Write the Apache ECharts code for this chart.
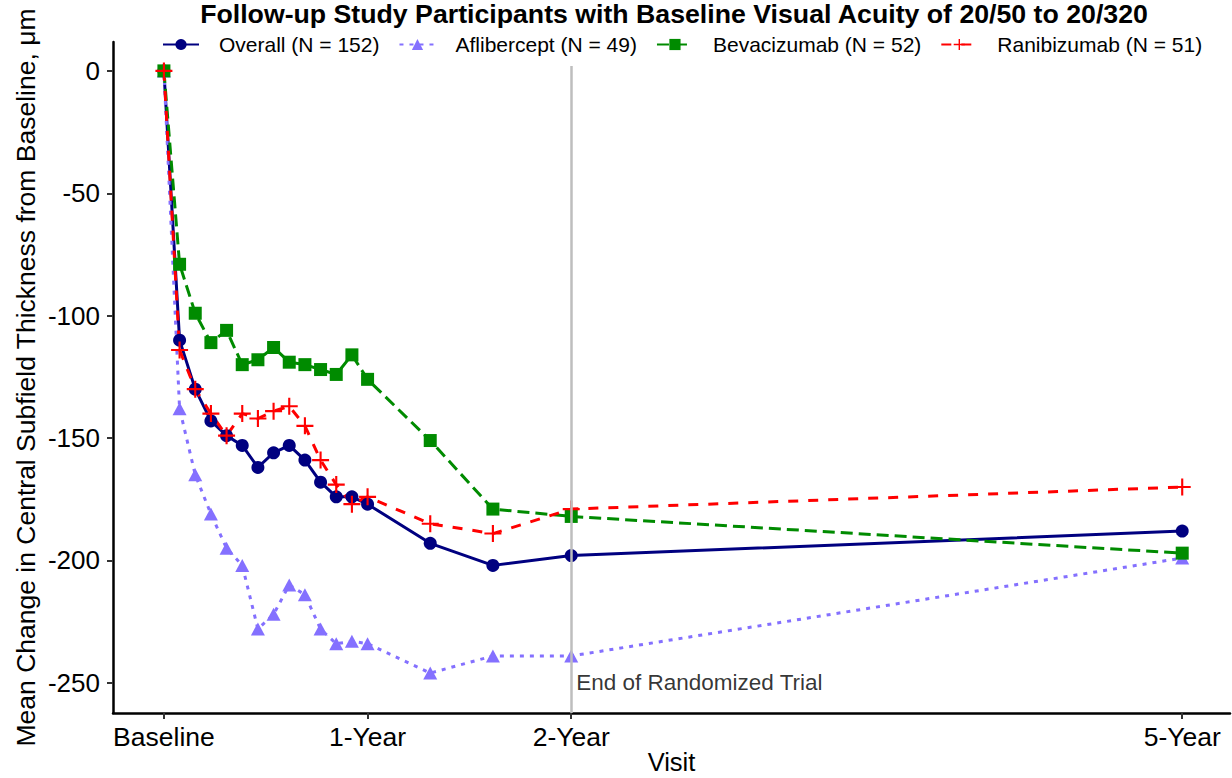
<!DOCTYPE html>
<html>
<head>
<meta charset="utf-8">
<script src="https://cdn.jsdelivr.net/npm/echarts@6/dist/echarts.min.js"></script>
<style>
html,body{margin:0;padding:0;background:#fff;}
#chart{width:1232px;height:778px;}
</style>
</head>
<body>
<div id="chart"></div>
<script>
const titleText = 'Follow-up Study Participants with Baseline Visual Acuity of 20/50 to 20/320';
const xAxisName = 'Visit';
const yAxisName = 'Mean Change in Central Subfield Thickness from Baseline, μm';
const annotationText = 'End of Randomized Trial';

// visit timing in weeks from baseline
const weeks = [0, 4, 8, 12, 16, 20, 24, 28, 32, 36, 40, 44, 48, 52, 68, 84, 104, 260];
const xTickValues = [0, 52, 104, 260];
const xTickLabels = ['Baseline', '1-Year', '2-Year', '5-Year'];
const yTickValues = [0, -50, -100, -150, -200, -250];

const seriesNames = ['Overall (N = 152)', 'Aflibercept (N = 49)', 'Bevacizumab (N = 52)', 'Ranibizumab (N = 51)'];
const overall     = [0, -110, -130, -143, -149, -153, -162, -156, -153, -159, -168, -174, -174, -177, -193, -202, -198, -188];
const aflibercept = [0, -138, -165, -181, -195, -202, -228, -222, -210, -214, -228, -234, -233, -234, -246, -239, -239, -199];
const bevacizumab = [0, -79, -99, -111, -106, -120, -118, -113, -119, -120, -122, -124, -116, -126, -151, -179, -182, -197];
const ranibizumab = [0, -114, -130, -140, -149, -140, -142, -139, -137, -145, -159, -169, -177, -174, -185, -189, -179, -170];

const trialEndWeek = 104;
const trialLineTop = 2;
const annotationY = -250;

const X_MIN = -13, X_MAX = 272.2, Y_MIN = -262.3, Y_MAX = 11.8;

const FONT = "'Liberation Sans', Arial, Helvetica, sans-serif";
const pairs = arr => weeks.map((w, i) => [w, arr[i]]);
const crossPath = 'path://M7,0h2v16h-2z M0,7h16v2h-16z';

const chart = echarts.init(document.getElementById('chart'), null, {renderer: 'svg'});

function lineSeries(name, data, color, dash, symbol, size) {
  return {
    name: name, type: 'line', data: pairs(data),
    symbol: symbol, symbolSize: size, showSymbol: true,
    lineStyle: {color: color, width: 3, type: dash},
    itemStyle: {color: color, borderWidth: 0},
    emphasis: {disabled: true},
    animation: false, z: 3
  };
}

const option = {
  animation: false,
  backgroundColor: '#ffffff',
  textStyle: {fontFamily: FONT},
  graphic: [{
    type: 'text', x: 674, y: 14,
    style: {text: titleText, x: 0, y: 0, align: 'center', verticalAlign: 'middle',
            font: 'bold 26.7px ' + FONT, fill: '#000'}
  }],
  legend: {
    data: seriesNames,
    left: 162, top: 34, padding: 0,
    itemWidth: 36, itemHeight: 14, itemGap: 19,
    textStyle: {fontSize: 21, color: '#000', fontFamily: FONT, padding: [0, 0, 0, 15]},
    selectedMode: false
  },
  grid: {left: 113, right: 2, top: 42, bottom: 65, containLabel: false, outerBoundsMode: 'none'},
  xAxis: {
    type: 'value', min: X_MIN, max: X_MAX,
    name: xAxisName, nameLocation: 'middle', nameGap: 36, nameMoveOverlap: false,
    nameTextStyle: {fontSize: 25.5, color: '#000', fontFamily: FONT},
    axisLine: {show: true, onZero: false, lineStyle: {color: '#000', width: 2.5}},
    axisTick: {show: true, customValues: xTickValues, length: 6, lineStyle: {color: '#333', width: 2}},
    axisLabel: {customValues: xTickValues, fontSize: 26.5, color: '#000', margin: 10, fontFamily: FONT,
      formatter: v => xTickLabels[xTickValues.indexOf(v)] || ''},
    splitLine: {show: false}
  },
  yAxis: {
    type: 'value', min: Y_MIN, max: Y_MAX,
    name: yAxisName, nameLocation: 'middle', nameGap: 74, nameRotate: 90, nameMoveOverlap: false,
    nameTextStyle: {fontSize: 26.5, color: '#000', fontFamily: FONT},
    axisLine: {show: true, onZero: false, lineStyle: {color: '#000', width: 2.5}},
    axisTick: {show: true, customValues: yTickValues, length: 6, lineStyle: {color: '#333', width: 2}},
    axisLabel: {customValues: yTickValues, fontSize: 26, color: '#000', margin: 13, fontFamily: FONT},
    splitLine: {show: false}
  },
  series: [
    {
      type: 'line', data: [], silent: true, z: 1,
      markLine: {
        silent: true, symbol: ['none', 'none'], animation: false,
        lineStyle: {color: '#BEBEBE', width: 2.5, type: 'solid'},
        label: {show: false},
        data: [[{coord: [trialEndWeek, trialLineTop]}, {coord: [trialEndWeek, Y_MIN]}]]
      }
    },
    {
      type: 'scatter', data: [[trialEndWeek, annotationY]], symbolSize: 0, silent: true, z: 2,
      label: {show: true, position: 'right', distance: 5, formatter: annotationText,
              fontSize: 22.5, color: '#000', fontFamily: FONT}
    },
    lineSeries(seriesNames[0], overall, '#000080', 'solid', 'circle', 13),
    lineSeries(seriesNames[1], aflibercept, '#8470FF', [4, 6], 'triangle', [14, 13]),
    lineSeries(seriesNames[2], bevacizumab, '#008B00', [12, 6], 'rect', 13),
    lineSeries(seriesNames[3], ranibizumab, '#FF0000', [10, 10], crossPath, 17)
  ]
};
chart.setOption(option);
</script>
</body>
</html>
